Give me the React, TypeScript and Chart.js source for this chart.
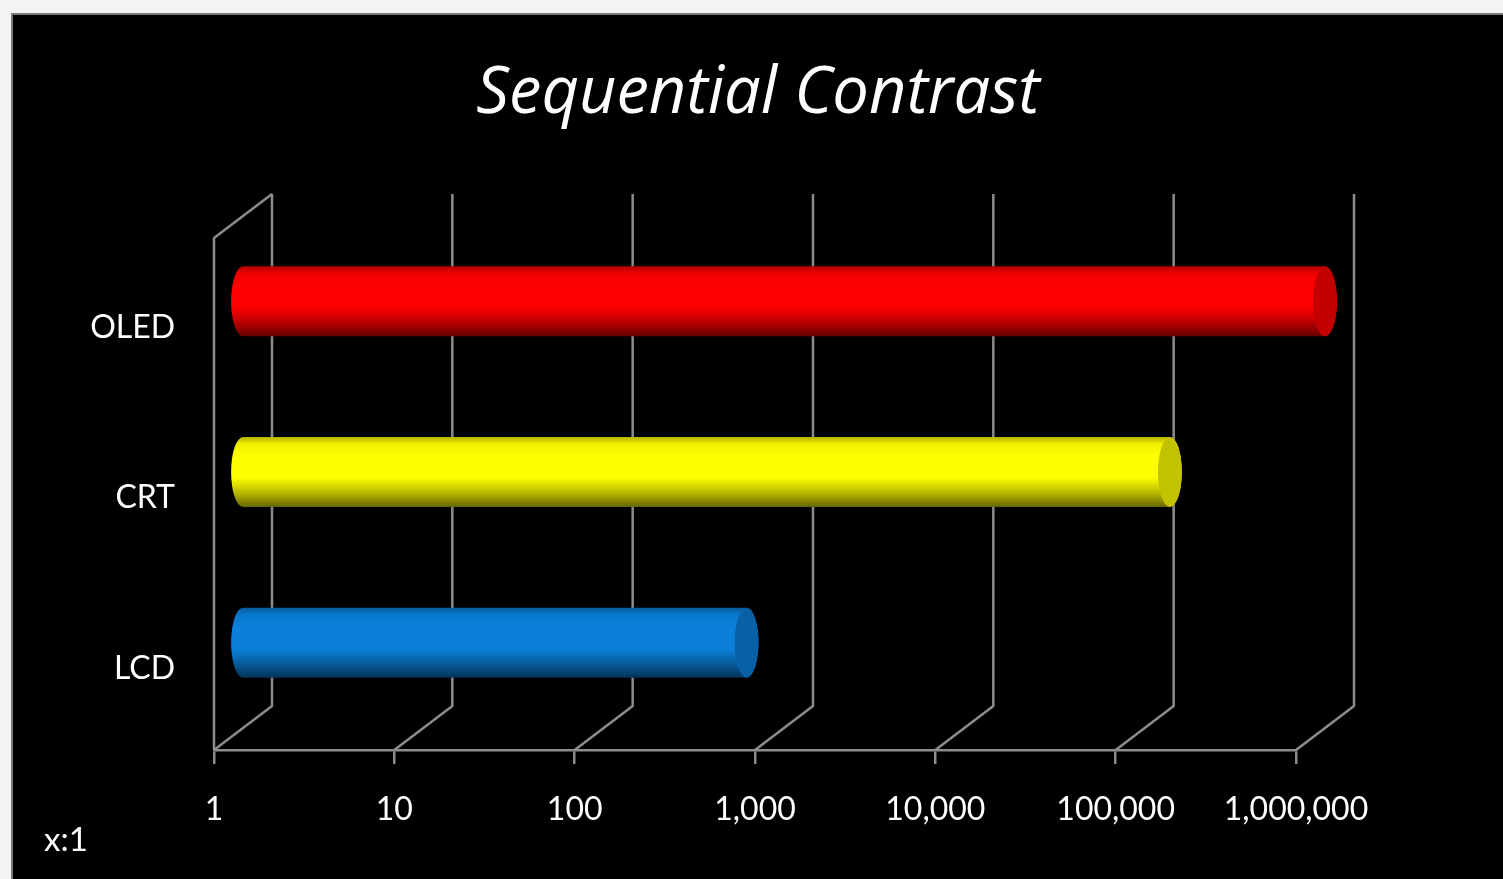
import React, { useEffect, useRef } from "react";
import { Chart, registerables } from "chart.js";

Chart.register(...registerables);

// ---- data ----
const categories = ["OLED", "CRT", "LCD"];
const contrastValues = [1000000, 138000, 620];
const barColors = ["#ff0000", "#ffff00", "#0a80da"];
const tickValues = [1, 10, 100, 1000, 10000, 100000, 1000000];
const tickLabels = ["1", "10", "100", "1,000", "10,000", "100,000", "1,000,000"];
const chartTitle = "Sequential Contrast";
const unitLabel = "x:1";

// ---- style ----
const FONT = "Lato, 'Open Sans', sans-serif";
const TITLE_FONT = "'Open Sans', Lato, sans-serif";
const DX = 58;
const DY = -44;
const GRID = "#8c8c8c";
const RIGHT_GAP = 207;

function shade(hex: string, f: number): string {
  const n = parseInt(hex.slice(1), 16);
  const r = Math.round(((n >> 16) & 255) * f);
  const g = Math.round(((n >> 8) & 255) * f);
  const b = Math.round((n & 255) * f);
  return `rgb(${r},${g},${b})`;
}

const depthPlugin = {
  id: "depth3d",
  beforeDatasetsDraw(chart: any) {
    const { ctx, chartArea, scales } = chart;
    const { left, top, bottom } = chartArea;
    const x = scales.x;
    ctx.save();
    ctx.strokeStyle = GRID;
    ctx.lineWidth = 2.5;
    ctx.lineJoin = "round";
    // left wall
    ctx.beginPath();
    ctx.moveTo(left, bottom);
    ctx.lineTo(left, top);
    ctx.lineTo(left + DX, top + DY);
    ctx.stroke();
    // floor diagonals + back wall gridlines
    tickValues.forEach((v) => {
      const fx = x.getPixelForValue(v);
      ctx.beginPath();
      ctx.moveTo(fx, bottom);
      ctx.lineTo(fx + DX, bottom + DY);
      ctx.lineTo(fx + DX, top + DY);
      ctx.stroke();
    });
    ctx.restore();
  },
  afterDatasetsDraw(chart: any) {
    const { ctx } = chart;
    const meta = chart.getDatasetMeta(0);
    ctx.save();
    meta.data.forEach((el: any, i: number) => {
      const p = el.getProps(["x", "y", "base", "height"], true);
      const color = barColors[i];
      const x0 = p.base + DX / 2;
      const x1 = p.x + DX / 2;
      const cy = p.y + DY / 2;
      const ry = p.height / 2;
      const rx = ry * 0.34;
      const g = ctx.createLinearGradient(0, cy - ry, 0, cy + ry);
      g.addColorStop(0, shade(color, 0.7));
      g.addColorStop(0.1, shade(color, 0.94));
      g.addColorStop(0.28, color);
      g.addColorStop(0.58, color);
      g.addColorStop(0.8, shade(color, 0.72));
      g.addColorStop(1, shade(color, 0.4));
      ctx.fillStyle = g;
      ctx.beginPath();
      ctx.moveTo(x1, cy - ry);
      ctx.lineTo(x0, cy - ry);
      ctx.ellipse(x0, cy, rx, ry, 0, -Math.PI / 2, Math.PI / 2, true);
      ctx.lineTo(x1, cy + ry);
      ctx.ellipse(x1, cy, rx, ry, 0, Math.PI / 2, -Math.PI / 2, true);
      ctx.closePath();
      ctx.fill();
      // end cap
      ctx.fillStyle = shade(color, 0.76);
      ctx.beginPath();
      ctx.ellipse(x1, cy, rx, ry, 0, 0, Math.PI * 2);
      ctx.fill();
    });
    ctx.restore();
  },
  afterDraw(chart: any) {
    const { ctx } = chart;
    ctx.save();
    ctx.fillStyle = "#ffffff";
    ctx.font = `33px ${FONT}`;
    ctx.textAlign = "left";
    ctx.textBaseline = "middle";
    ctx.fillText(unitLabel, 31, 825);
    ctx.restore();
  },
};

export default function App() {
  const canvasRef = useRef<HTMLCanvasElement | null>(null);

  useEffect(() => {
    const canvas = canvasRef.current;
    if (!canvas) return;
    const chart = new Chart(canvas, {
      type: "bar",
      data: {
        labels: categories,
        datasets: [
          {
            data: contrastValues,
            backgroundColor: "rgba(0,0,0,0)",
            borderWidth: 0,
            barPercentage: 0.41,
            categoryPercentage: 1,
          },
        ],
      },
      options: {
        indexAxis: "y",
        animation: false,
        responsive: false,
        devicePixelRatio: 1,
        layout: { padding: 0 },
        plugins: {
          legend: { display: false },
          tooltip: { enabled: false },
          title: {
            display: true,
            text: chartTitle,
            color: "#ffffff",
            font: { family: TITLE_FONT, size: 65, style: "italic", weight: "normal" },
            padding: { top: 40, bottom: 105 },
          },
        },
        scales: {
          x: {
            type: "logarithmic",
            min: 1,
            max: 1000000,
            afterBuildTicks: (scale: any) => {
              scale.ticks = tickValues.map((v) => ({ value: v }));
            },
            afterFit: (scale: any) => {
              scale.height = 129;
              scale.paddingRight = RIGHT_GAP;
            },
            grid: {
              display: true,
              drawOnChartArea: false,
              drawTicks: true,
              tickLength: 14,
              color: GRID,
              lineWidth: 2.5,
            },
            border: { display: true, color: GRID, width: 2.5 },
            ticks: {
              color: "#ffffff",
              font: { family: FONT, size: 32 },
              padding: 26,
              maxRotation: 0,
              autoSkip: false,
              callback: (v: any) => {
                const idx = tickValues.indexOf(Number(v));
                return idx >= 0 ? tickLabels[idx] : "";
              },
            },
          },
          y: {
            type: "category",
            afterFit: (scale: any) => {
              scale.width = 201;
            },
            grid: { display: false },
            border: { display: false },
            ticks: {
              color: "#ffffff",
              font: { family: FONT, size: 32 },
              padding: 31,
              labelOffset: 4,
            },
          },
        },
      },
      plugins: [depthPlugin],
    });
    return () => chart.destroy();
  }, []);

  return (
    <div
      style={{
        position: "fixed",
        left: 0,
        top: 0,
        width: 1503,
        height: 879,
        background: "#f3f3f3",
        overflow: "hidden",
      }}
    >
      <div
        style={{
          position: "absolute",
          left: 11,
          top: 13,
          width: 1492,
          height: 866,
          borderTop: "2px solid #7a7a7a",
          borderLeft: "2px solid #7a7a7a",
          background: "#000000",
        }}
      >
        <canvas
          ref={canvasRef}
          width={1490}
          height={864}
          style={{ position: "absolute", left: 0, top: 0, width: 1490, height: 864 }}
        />
      </div>
    </div>
  );
}
